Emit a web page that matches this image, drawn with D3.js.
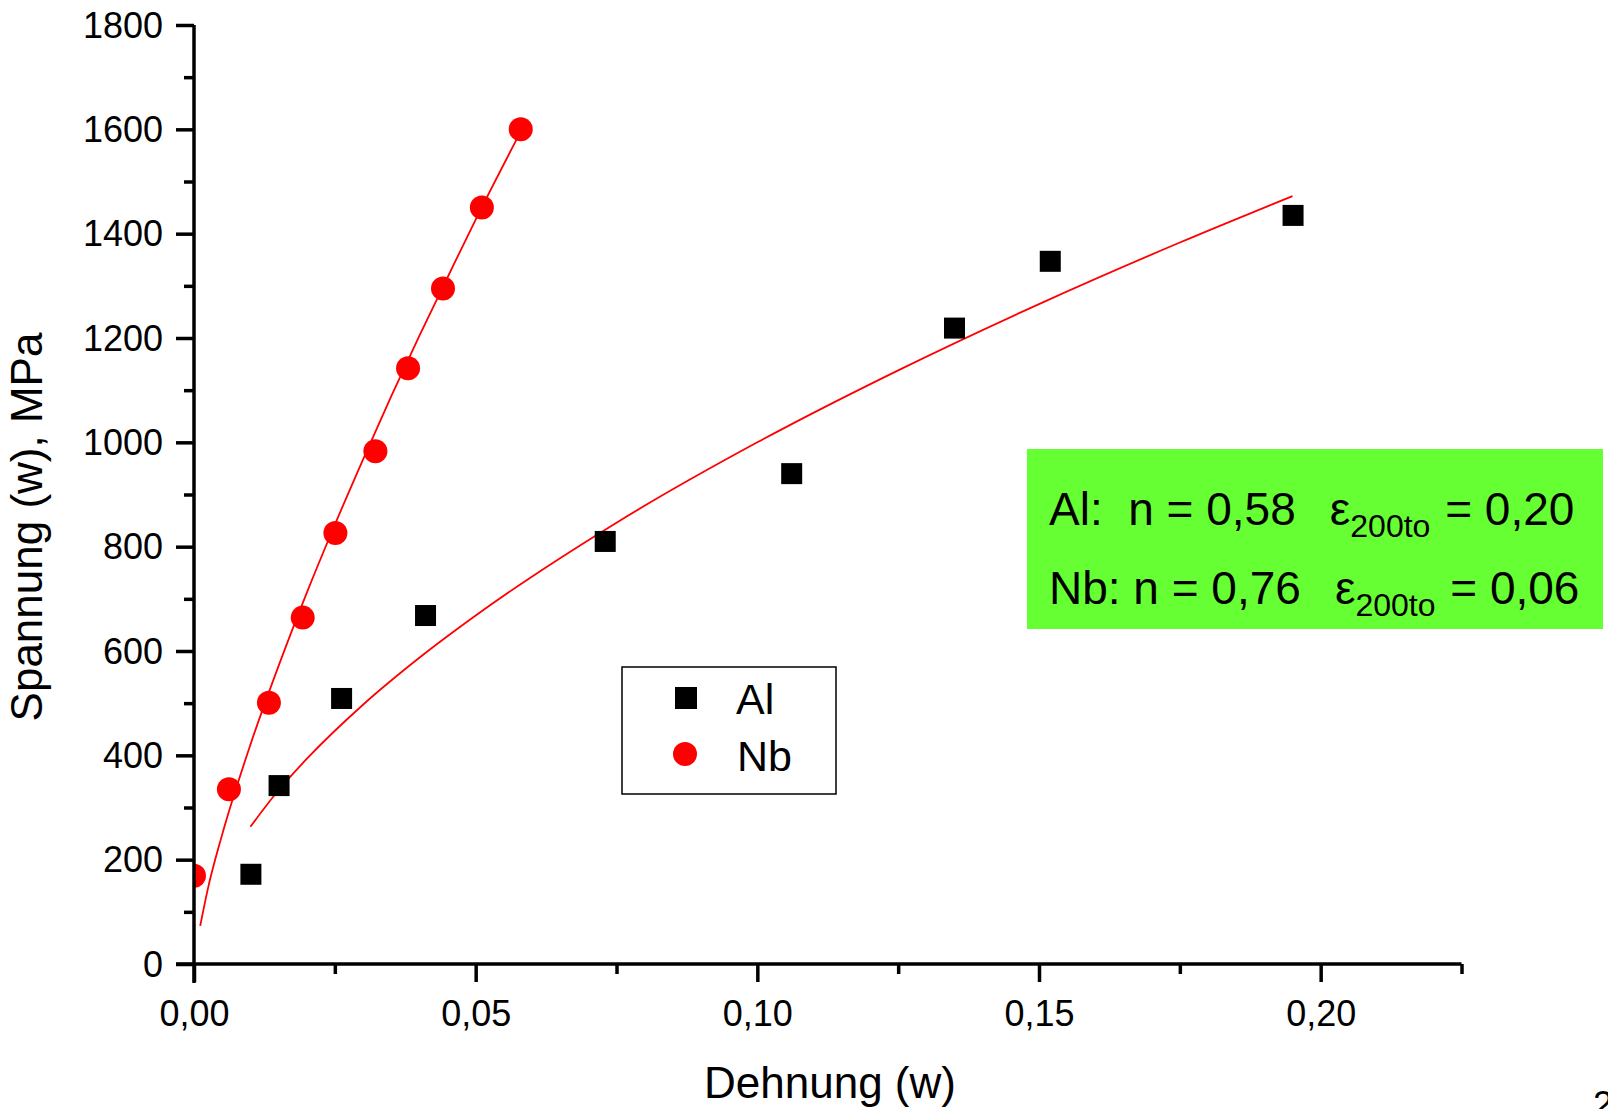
<!DOCTYPE html>
<html>
<head>
<meta charset="utf-8">
<script src="https://cdn.jsdelivr.net/npm/d3@7"></script>
<style>
  html, body { margin: 0; padding: 0; background: #fff; }
  svg { display: block; font-family: "Liberation Sans", Arial, sans-serif; }
  text { white-space: pre; }
</style>
</head>
<body>
<svg id="chart" width="1608" height="1109"></svg>
<script>
// ---- Data ----
const alStrain = [0.0101, 0.0151, 0.0262, 0.0411, 0.0730, 0.1061, 0.1350, 0.1520, 0.1951];
const alStress = [172, 342, 509, 668, 810, 940, 1219, 1347, 1435];

const nbStrain = [0.0000, 0.0062, 0.0133, 0.0193, 0.0251, 0.0322, 0.0380, 0.0442, 0.0511, 0.0580];
const nbStress = [169, 335, 501, 664, 826, 983, 1142, 1295, 1450, 1600];

// fitted curves as traced on the picture
const alFitStrain = [0.010, 0.015, 0.020, 0.030, 0.040, 0.050, 0.075, 0.100, 0.125, 0.150, 0.175, 0.195];
const alFitStress = [263, 333, 393, 497, 587, 668, 846, 1000, 1138, 1265, 1383, 1472];

const nbFitStrain = [0.0011, 0.0025, 0.005, 0.010, 0.015, 0.020, 0.025, 0.030, 0.035, 0.040, 0.045, 0.050, 0.0582];
const nbFitStress = [73, 146, 248, 420, 571, 711, 842, 967, 1088, 1204, 1316, 1427, 1600];

const xMajorTicks = [0, 0.05, 0.10, 0.15, 0.20];
const xMinorTicks = [0.025, 0.075, 0.125, 0.175, 0.225];
const yMajorTicks = [0, 200, 400, 600, 800, 1000, 1200, 1400, 1600, 1800];
const yMinorTicks = [100, 300, 500, 700, 900, 1100, 1300, 1500, 1700];

const seriesNames = ["Al", "Nb"];
const xTitle = "Dehnung (w)";
const yTitle = "Spannung (w), MPa";

// ---- Layout ----
const svg = d3.select("#chart");
const X0 = 194, X1 = 1461.5, Y0 = 964, Y1 = 25;
const x = d3.scaleLinear().domain([0, 0.225]).range([X0, X1]);
const y = d3.scaleLinear().domain([0, 1800]).range([Y0, Y1]);
const fmtX = v => d3.format(".2f")(v).replace(".", ",");

svg.append("defs").append("clipPath").attr("id", "plotclip")
  .append("rect").attr("x", X0).attr("y", 0).attr("width", X1 - X0 + 20).attr("height", Y0 + 20);

// ---- Annotation box ----
const box = svg.append("g");
box.append("rect").attr("x", 1027).attr("y", 449).attr("width", 576).attr("height", 180)
  .attr("fill", "#66FF33");
function annLine(yb, prefix, n, eps) {
  const t = box.append("text").attr("x", 1049).attr("y", yb)
    .attr("font-size", 46).attr("fill", "#000");
  t.append("tspan").text(prefix + "n = " + n);
  t.append("tspan").attr("dx", 34).text("\u03B5");
  t.append("tspan").attr("font-size", 32).attr("dy", 12).text("200to");
  t.append("tspan").attr("dy", -12).attr("dx", 2).text(" = " + eps);
}
annLine(525, "Al:  ", "0,58", "0,20");
annLine(604, "Nb: ", "0,76", "0,06");

// ---- Fit curves ----
const line = d3.line().x(d => x(d[0])).y(d => y(d[1])).curve(d3.curveMonotoneX);
const plot = svg.append("g").attr("clip-path", "url(#plotclip)");
plot.append("path").datum(d3.zip(alFitStrain, alFitStress))
  .attr("d", line).attr("fill", "none").attr("stroke", "#FF0000").attr("stroke-width", 1.8);
plot.append("path").datum(d3.zip(nbFitStrain, nbFitStress))
  .attr("d", line).attr("fill", "none").attr("stroke", "#FF0000").attr("stroke-width", 1.8);

// ---- Markers ----
const sq = 21;
plot.selectAll("rect.al").data(d3.zip(alStrain, alStress)).enter().append("rect")
  .attr("class", "al")
  .attr("x", d => x(d[0]) - sq / 2).attr("y", d => y(d[1]) - sq / 2)
  .attr("width", sq).attr("height", sq).attr("fill", "#000");
plot.selectAll("circle.nb").data(d3.zip(nbStrain, nbStress)).enter().append("circle")
  .attr("class", "nb")
  .attr("cx", d => x(d[0])).attr("cy", d => y(d[1])).attr("r", 12).attr("fill", "#FF0000");

// ---- Axes ----
const xAxis = svg.append("g").attr("transform", `translate(0,${Y0})`)
  .call(d3.axisBottom(x).tickValues(xMajorTicks).tickSize(18).tickSizeOuter(0).tickFormat(fmtX));
xAxis.select(".domain").attr("stroke-width", 3.5).attr("d", `M${X0 - 18},0H${X1}`);
xAxis.selectAll(".tick line").attr("stroke-width", 3.5);
xAxis.selectAll(".tick text").attr("font-size", 36).attr("font-family", "Liberation Sans, Arial, sans-serif")
  .attr("y", 62).attr("dy", 0).attr("fill", "#000");
svg.append("g").attr("transform", `translate(0,${Y0})`)
  .call(d3.axisBottom(x).tickValues(xMinorTicks).tickSize(10).tickFormat(""))
  .call(g => g.select(".domain").remove())
  .selectAll(".tick line").attr("stroke-width", 3.5);

const yAxis = svg.append("g").attr("transform", `translate(${X0},0)`)
  .call(d3.axisLeft(y).tickValues(yMajorTicks).tickSize(18).tickSizeOuter(0).tickFormat(d3.format("d")));
yAxis.select(".domain").attr("stroke-width", 3.5).attr("d", `M0,${Y1}V${Y0 + 19}`);
yAxis.selectAll(".tick line").attr("stroke-width", 3.5);
yAxis.selectAll(".tick text").attr("font-size", 36).attr("font-family", "Liberation Sans, Arial, sans-serif")
  .attr("x", -31).attr("dy", "0.34em").attr("fill", "#000");
svg.append("g").attr("transform", `translate(${X0},0)`)
  .call(d3.axisLeft(y).tickValues(yMinorTicks).tickSize(10).tickFormat(""))
  .call(g => g.select(".domain").remove())
  .selectAll(".tick line").attr("stroke-width", 3.5);

// ---- Axis titles ----
svg.append("text").attr("x", 830).attr("y", 1098).attr("text-anchor", "middle")
  .attr("font-size", 44).attr("fill", "#000").text(xTitle);
svg.append("text").attr("transform", "translate(42,527) rotate(-90)").attr("text-anchor", "middle")
  .attr("font-size", 44).attr("fill", "#000").text(yTitle);

// ---- Legend ----
const lg = svg.append("g");
lg.append("rect").attr("x", 622).attr("y", 667).attr("width", 214).attr("height", 127)
  .attr("fill", "#fff").attr("stroke", "#000").attr("stroke-width", 1.5);
lg.append("rect").attr("x", 675).attr("y", 687).attr("width", 22).attr("height", 22).attr("fill", "#000");
lg.append("circle").attr("cx", 685).attr("cy", 754).attr("r", 12).attr("fill", "#FF0000");
lg.append("text").attr("x", 736).attr("y", 714).attr("font-size", 43).attr("fill", "#000").text(seriesNames[0]);
lg.append("text").attr("x", 737).attr("y", 771).attr("font-size", 43).attr("fill", "#000").text(seriesNames[1]);

// ---- page number fragment (cut off at the edge, as in the reference) ----
svg.append("text").attr("x", 1593).attr("y", 1117).attr("font-size", 36).attr("fill", "#000").text("2");
</script>
</body>
</html>
